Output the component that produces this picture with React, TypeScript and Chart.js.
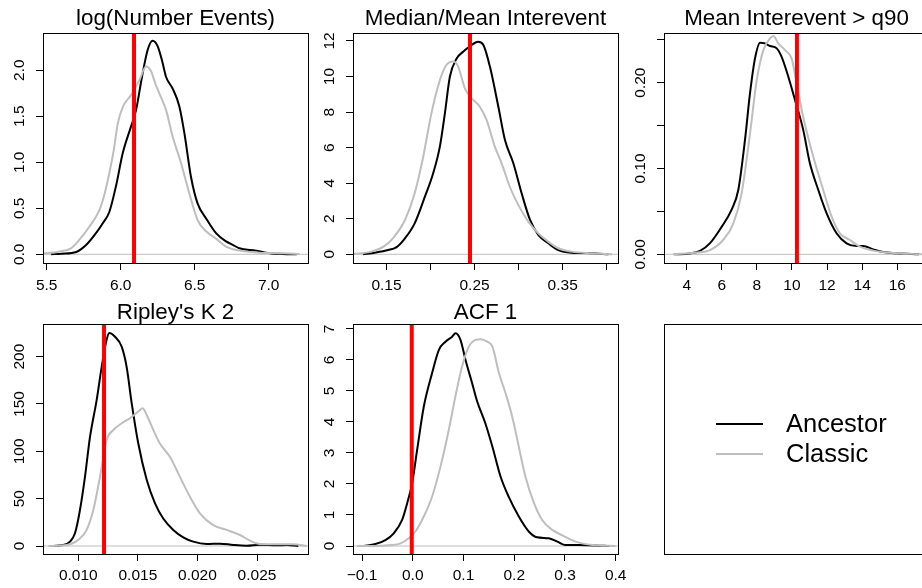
import React, { useEffect, useRef } from "react";
import { Chart, registerables } from "chart.js";

Chart.register(...registerables);

// ---------------- data ----------------
const panelTitles = [
  "log(Number Events)",
  "Median/Mean Interevent",
  "Mean Interevent > q90",
  "Ripley's K 2",
  "ACF 1",
];
const seriesNames = ["Ancestor", "Classic"];
const seriesColors = ["#000000", "#BEBEBE"];
const observedValues = [6.09, 0.2448, 10.28, 0.01216, -0.002];

const logEventsAncestor: [number, number][] = [
  [5.53, 0], [5.6, 0.006], [5.7, 0.025], [5.766, 0.1], [5.833, 0.23], [5.88, 0.34],
  [5.923, 0.46], [5.968, 0.74], [6.014, 1.1], [6.07, 1.39], [6.104, 1.57], [6.144, 1.93],
  [6.182, 2.22], [6.216, 2.32], [6.25, 2.26], [6.28, 2.1], [6.306, 1.93], [6.351, 1.8],
  [6.396, 1.61], [6.43, 1.32], [6.475, 0.84], [6.52, 0.55], [6.577, 0.39], [6.644, 0.23],
  [6.712, 0.14], [6.76, 0.1], [6.802, 0.065], [6.914, 0.04], [6.98, 0.018], [7.095, 0.004],
  [7.19, 0],
];
const logEventsClassic: [number, number][] = [
  [5.45, 0.003], [5.586, 0.03], [5.664, 0.065], [5.72, 0.156], [5.788, 0.3], [5.856, 0.48],
  [5.89, 0.65], [5.923, 0.88], [5.955, 1.15], [5.98, 1.42], [6.014, 1.6], [6.07, 1.73],
  [6.126, 1.89], [6.171, 2.04], [6.205, 1.99], [6.235, 1.85], [6.261, 1.75], [6.306, 1.57],
  [6.351, 1.28], [6.408, 0.99], [6.464, 0.66], [6.52, 0.37], [6.577, 0.25], [6.644, 0.17],
  [6.712, 0.083], [6.802, 0.04], [6.937, 0.018], [7.095, 0.011], [7.207, 0.004],
];

const medianMeanAncestor: [number, number][] = [
  [0.1235, 0], [0.1367, 0.09], [0.152, 0.24], [0.161, 0.39], [0.171, 0.9], [0.182, 1.74],
  [0.1936, 3.24], [0.203, 4.56], [0.2106, 6.06], [0.2163, 7.93], [0.222, 10.0], [0.2295, 11.0],
  [0.237, 11.4], [0.2447, 11.7], [0.254, 11.96], [0.26, 11.78], [0.2674, 10.56], [0.277, 8.3],
  [0.2845, 6.43], [0.294, 5.12], [0.3034, 3.43], [0.313, 1.93], [0.3223, 1.09], [0.3337, 0.62],
  [0.345, 0.24], [0.36, 0.09], [0.383, 0.06], [0.402, 0],
];
const medianMeanClassic: [number, number][] = [
  [0.112, 0.02], [0.133, 0.15], [0.148, 0.47], [0.159, 1.0], [0.171, 1.93], [0.182, 3.43],
  [0.1917, 5.49], [0.201, 7.93], [0.2106, 9.8], [0.218, 10.65], [0.2258, 10.84], [0.2314, 10.56],
  [0.239, 9.34], [0.2466, 8.78], [0.256, 8.3], [0.2636, 7.56], [0.273, 6.06], [0.2807, 5.12],
  [0.29, 3.8], [0.2996, 2.78], [0.311, 1.84], [0.3223, 1.18], [0.3337, 0.71], [0.345, 0.34],
  [0.36, 0.15], [0.383, 0.06], [0.406, 0],
];

const meanQ90Ancestor: [number, number][] = [
  [3.28, 0], [4.19, 0.001], [4.76, 0.004], [5.33, 0.013], [5.99, 0.032], [6.56, 0.052],
  [6.94, 0.075], [7.32, 0.133], [7.61, 0.188], [7.89, 0.228], [8.18, 0.2466], [8.46, 0.2458],
  [8.75, 0.2427], [9.13, 0.24], [9.41, 0.23], [9.79, 0.207], [10.17, 0.18], [10.64, 0.145],
  [11.02, 0.106], [11.5, 0.075], [11.97, 0.048], [12.54, 0.0245], [13.11, 0.0128], [13.68, 0.0097],
  [14.06, 0.0097], [14.63, 0.0058], [15.2, 0.0027], [15.96, 0.0012], [17.24, 0],
];
const meanQ90Classic: [number, number][] = [
  [3.24, 0], [4.57, 0.002], [5.33, 0.005], [6.09, 0.017], [6.66, 0.036], [7.13, 0.071],
  [7.61, 0.141], [7.99, 0.203], [8.37, 0.238], [8.75, 0.2517], [8.94, 0.2544], [9.22, 0.2458],
  [9.6, 0.238], [9.98, 0.228], [10.27, 0.199], [10.64, 0.16], [11.21, 0.114], [11.78, 0.075],
  [12.26, 0.044], [12.73, 0.0245], [13.3, 0.0167], [13.87, 0.0089], [14.63, 0.0043], [15.58, 0.0019],
  [17.4, 0],
];

const ripleyAncestor: [number, number][] = [
  [0.00762, 0], [0.00874, 1], [0.0093, 4.6], [0.00972, 13.4], [0.01014, 38], [0.01056, 73],
  [0.01098, 115], [0.01154, 154], [0.01196, 189], [0.01238, 218], [0.0126, 225], [0.01308, 221],
  [0.01364, 210.6], [0.01406, 189], [0.01448, 151], [0.01504, 108], [0.01574, 70], [0.01644, 45],
  [0.01713, 29], [0.01797, 17], [0.01881, 9.2], [0.01965, 4.6], [0.02077, 2.1], [0.02189, 2.5],
  [0.02301, 1.1], [0.02413, 0.35], [0.02525, 1.4], [0.02665, 0.7], [0.02749, 1.0], [0.02847, 0],
];
const ripleyClassic: [number, number][] = [
  [0.00748, 0], [0.00902, 1], [0.01014, 8], [0.0107, 17], [0.01126, 38], [0.01182, 73],
  [0.01238, 112], [0.01294, 122.5], [0.01364, 129.6], [0.01434, 135], [0.01504, 142], [0.0154, 145.4],
  [0.01574, 138.4], [0.0163, 122.5], [0.01686, 108], [0.0177, 94], [0.01853, 73], [0.01937, 52],
  [0.02021, 34.5], [0.02133, 22], [0.02245, 17], [0.02357, 11.6], [0.02441, 5.6], [0.02525, 2.1],
  [0.02665, 1.8], [0.02805, 1.8], [0.02917, 0],
];

const acfAncestor: [number, number][] = [
  [-0.0967, 0], [-0.0737, 0.065], [-0.054, 0.19], [-0.0375, 0.41], [-0.021, 0.84], [-0.011, 1.38],
  [-0.0013, 2.02], [0.0086, 3.1], [0.0217, 4.49], [0.038, 5.57], [0.0513, 6.32], [0.0645, 6.59],
  [0.0776, 6.75], [0.0842, 6.86], [0.094, 6.65], [0.104, 6.0], [0.117, 5.25], [0.127, 4.66],
  [0.143, 3.96], [0.157, 3.2], [0.173, 2.24], [0.189, 1.59], [0.209, 0.95], [0.229, 0.46],
  [0.245, 0.28], [0.268, 0.25], [0.285, 0.14], [0.301, 0.03], [0.3276, 0.03], [0.36, 0.02],
  [0.387, 0],
];
const acfClassic: [number, number][] = [
  [-0.11, 0], [-0.054, 0.02], [-0.024, 0.086], [-0.008, 0.25], [0.005, 0.46], [0.0217, 0.95],
  [0.038, 1.59], [0.0546, 2.56], [0.071, 3.74], [0.084, 4.82], [0.097, 5.78], [0.1105, 6.43],
  [0.1237, 6.65], [0.1336, 6.67], [0.1467, 6.59], [0.157, 6.43], [0.17, 5.57], [0.183, 4.92],
  [0.196, 4.17], [0.209, 3.2], [0.222, 2.24], [0.239, 1.38], [0.255, 0.84], [0.275, 0.52],
  [0.298, 0.32], [0.321, 0.14], [0.354, 0.03], [0.4, 0],
];

const ancestorSeries = [logEventsAncestor, medianMeanAncestor, meanQ90Ancestor, ripleyAncestor, acfAncestor];
const classicSeries = [logEventsClassic, medianMeanClassic, meanQ90Classic, ripleyClassic, acfClassic];

const xLimits: [number, number][] = [
  [5.475, 7.2655], [0.112, 0.4128], [2.707, 17.807], [0.007037, 0.02928], [-0.1178, 0.4045],
];
const yLimits: [number, number][] = [
  [-0.0946, 2.405], [-0.49, 12.45], [-0.0101, 0.2579], [-8.45, 234.5], [-0.258, 7.16],
];
const xTicks = [
  [5.5, 6.0, 6.5, 7.0],
  [0.15, 0.2, 0.25, 0.3, 0.35, 0.4],
  [4, 6, 8, 10, 12, 14, 16],
  [0.01, 0.015, 0.02, 0.025],
  [-0.1, 0, 0.1, 0.2, 0.3, 0.4],
];
const xTickLabels = [
  ["5.5", "6.0", "6.5", "7.0"],
  ["0.15", "", "0.25", "", "0.35", ""],
  ["4", "6", "8", "10", "12", "14", "16"],
  ["0.010", "0.015", "0.020", "0.025"],
  ["\u22120.1", "0.0", "0.1", "0.2", "0.3", "0.4"],
];
const yTicks = [
  [0, 0.5, 1.0, 1.5, 2.0],
  [0, 2, 4, 6, 8, 10, 12],
  [0, 0.05, 0.1, 0.15, 0.2, 0.25],
  [0, 50, 100, 150, 200],
  [0, 1, 2, 3, 4, 5, 6, 7],
];
const yTickLabels = [
  ["0.0", "0.5", "1.0", "1.5", "2.0"],
  ["0", "2", "4", "6", "8", "10", "12"],
  ["0.00", "", "0.10", "", "0.20", ""],
  ["0", "50", "100", "150", "200"],
  ["0", "1", "2", "3", "4", "5", "6", "7"],
];

// ---------------- layout / style ----------------
const FONT = '"Liberation Sans", Arial, Helvetica, sans-serif';
const TICK_SIZE = 15.5;
const TITLE_SIZE = 22.4;
const LEGEND_SIZE = 25.5;
const COL_X = [0, 310, 621];
const CANVAS_W = [310, 321, 311];
const RIGHT_PAD = [2, 13, 3];
const ROW_Y = [0, 291];
const CANVAS_H = 294;
const Y_AXIS_W = 43;
const X_AXIS_H = 31;
const TITLE_PAD = [
  { top: 8, bottom: 2.6 },
  { top: 10.6, bottom: 0 },
];
const X_LABEL_PAD = [6.4, 5.2];
const TICK_LEN = 7;

function maxTextWidth(labels: string[], size: number): number {
  const ctx = document.createElement("canvas").getContext("2d");
  if (!ctx) return 0;
  ctx.font = `${size}px ${FONT}`;
  return Math.max(0, ...labels.map((l) => ctx.measureText(l).width));
}

const boxPlugin = {
  id: "rbox",
  afterDraw(chart: any) {
    const { ctx, chartArea: a } = chart;
    ctx.save();
    ctx.strokeStyle = "#000";
    ctx.lineWidth = 1;
    const l = Math.round(a.left) + 0.5;
    const t = Math.round(a.top) + 0.5;
    const r = Math.round(a.right) + 0.5;
    const b = Math.round(a.bottom) + 0.5;
    ctx.strokeRect(l, t, r - l, b - t);
    ctx.restore();
  },
};

function buildPanelConfig(i: number): any {
  const col = i % 3;
  const row = Math.floor(i / 3);
  const [xmin, xmax] = xLimits[i];
  const [ymin, ymax] = yLimits[i];
  const widest = maxTextWidth(yTickLabels[i], TICK_SIZE);
  const yPad = 16 - widest / 2;
  const curve = (pts: [number, number][]) => pts.map(([x, y]) => ({ x, y }));
  return {
    type: "line",
    data: {
      datasets: [
        {
          label: "zero",
          data: [{ x: xmin, y: 0 }, { x: xmax, y: 0 }],
          borderColor: "#BEBEBE",
          borderWidth: 1,
          pointRadius: 0,
          order: 3,
          clip: 0,
        },
        {
          label: seriesNames[0],
          data: curve(ancestorSeries[i]),
          borderColor: seriesColors[0],
          borderWidth: 2,
          pointRadius: 0,
          cubicInterpolationMode: "monotone",
          order: 2,
          clip: 0,
        },
        {
          label: seriesNames[1],
          data: curve(classicSeries[i]),
          borderColor: seriesColors[1],
          borderWidth: 2,
          pointRadius: 0,
          cubicInterpolationMode: "monotone",
          order: 1,
          clip: 0,
        },
        {
          label: "observed",
          data: [{ x: observedValues[i], y: ymin }, { x: observedValues[i], y: ymax }],
          borderColor: "#FF0000",
          borderWidth: 4,
          pointRadius: 0,
          order: 0,
          clip: 0,
        },
      ],
    },
    options: {
      animation: false,
      responsive: false,
      devicePixelRatio: 1,
      events: [],
      layout: { padding: { left: 0, right: RIGHT_PAD[col], top: 0, bottom: 0 } },
      elements: { line: { fill: false, borderJoinStyle: "round" }, point: { radius: 0 } },
      plugins: {
        legend: { display: false },
        tooltip: { enabled: false },
        title: {
          display: true,
          text: panelTitles[i],
          fullSize: false,
          color: "#000",
          font: { family: FONT, size: TITLE_SIZE, weight: "normal", lineHeight: 1 },
          padding: TITLE_PAD[row],
        },
      },
      scales: {
        x: {
          type: "linear",
          position: "bottom",
          min: xmin,
          max: xmax,
          afterBuildTicks: (s: any) => {
            s.ticks = xTicks[i].map((v) => ({ value: v }));
          },
          afterFit: (s: any) => {
            s.height = X_AXIS_H;
            s.paddingLeft = 0;
            s.paddingRight = 0;
          },
          ticks: {
            autoSkip: false,
            minRotation: 0,
            maxRotation: 0,
            padding: X_LABEL_PAD[row],
            color: "#000",
            font: { family: FONT, size: TICK_SIZE },
            callback: (_v: any, idx: number) => xTickLabels[i][idx],
          },
          grid: {
            display: true,
            drawOnChartArea: false,
            drawTicks: true,
            tickLength: TICK_LEN,
            color: "#000",
            lineWidth: 1,
          },
          border: { display: true, color: "#000", width: 1 },
        },
        y: {
          type: "linear",
          position: "left",
          min: ymin,
          max: ymax,
          afterBuildTicks: (s: any) => {
            s.ticks = yTicks[i].map((v) => ({ value: v }));
          },
          afterFit: (s: any) => {
            s.width = Y_AXIS_W;
            s.paddingTop = 0;
            s.paddingBottom = 0;
          },
          ticks: {
            autoSkip: false,
            minRotation: 90,
            maxRotation: 90,
            crossAlign: "center",
            padding: yPad,
            color: "#000",
            font: { family: FONT, size: TICK_SIZE },
            callback: (_v: any, idx: number) => yTickLabels[i][idx],
          },
          grid: {
            display: true,
            drawOnChartArea: false,
            drawTicks: true,
            tickLength: TICK_LEN,
            color: "#000",
            lineWidth: 1,
          },
          border: { display: true, color: "#000", width: 1 },
        },
      },
    },
    plugins: [boxPlugin],
  };
}

const legendPlugin = {
  id: "rlegend",
  afterDraw(chart: any) {
    const { ctx, chartArea: a } = chart;
    const cy = (a.top + a.bottom) / 2;
    const gap = 30;
    const n = chart.data.datasets.length;
    ctx.save();
    chart.data.datasets.forEach((ds: any, j: number) => {
      const y = Math.round(cy + (j - (n - 1) / 2) * gap);
      ctx.strokeStyle = ds.borderColor;
      ctx.lineWidth = ds.borderWidth;
      ctx.beginPath();
      ctx.moveTo(a.left + 52, y);
      ctx.lineTo(a.left + 99, y);
      ctx.stroke();
      ctx.fillStyle = "#000";
      ctx.font = `${LEGEND_SIZE}px ${FONT}`;
      ctx.textBaseline = "middle";
      ctx.textAlign = "left";
      ctx.fillText(ds.label, a.left + 122, y + 1);
    });
    ctx.restore();
  },
};

function buildLegendConfig(): any {
  return {
    type: "line",
    data: {
      datasets: seriesNames.map((name, j) => ({
        label: name,
        data: [],
        borderColor: seriesColors[j],
        borderWidth: 2,
      })),
    },
    options: {
      animation: false,
      responsive: false,
      devicePixelRatio: 1,
      events: [],
      layout: { padding: { left: Y_AXIS_W, right: RIGHT_PAD[2], top: 33, bottom: X_AXIS_H } },
      plugins: { legend: { display: false }, tooltip: { enabled: false } },
      scales: { x: { display: false }, y: { display: false } },
    },
    plugins: [boxPlugin, legendPlugin],
  };
}

function ChartCanvas({ build, left, top, width, height }: any) {
  const ref = useRef<HTMLCanvasElement>(null);
  useEffect(() => {
    if (!ref.current) return;
    const chart = new Chart(ref.current, build());
    return () => chart.destroy();
  }, []);
  return (
    <canvas
      ref={ref}
      width={width}
      height={height}
      style={{ position: "absolute", left, top, width, height }}
    />
  );
}

export default function App() {
  return (
    <div
      style={{
        position: "absolute",
        left: 0,
        top: 0,
        width: 922,
        height: 588,
        overflow: "hidden",
        background: "#fff",
      }}
    >
      {panelTitles.map((_, i) => {
        const col = i % 3;
        const row = Math.floor(i / 3);
        return (
          <ChartCanvas
            key={i}
            build={() => buildPanelConfig(i)}
            left={COL_X[col]}
            top={ROW_Y[row]}
            width={CANVAS_W[col]}
            height={CANVAS_H}
          />
        );
      })}
      <ChartCanvas
        build={buildLegendConfig}
        left={COL_X[2]}
        top={ROW_Y[1]}
        width={CANVAS_W[2]}
        height={CANVAS_H}
      />
    </div>
  );
}
